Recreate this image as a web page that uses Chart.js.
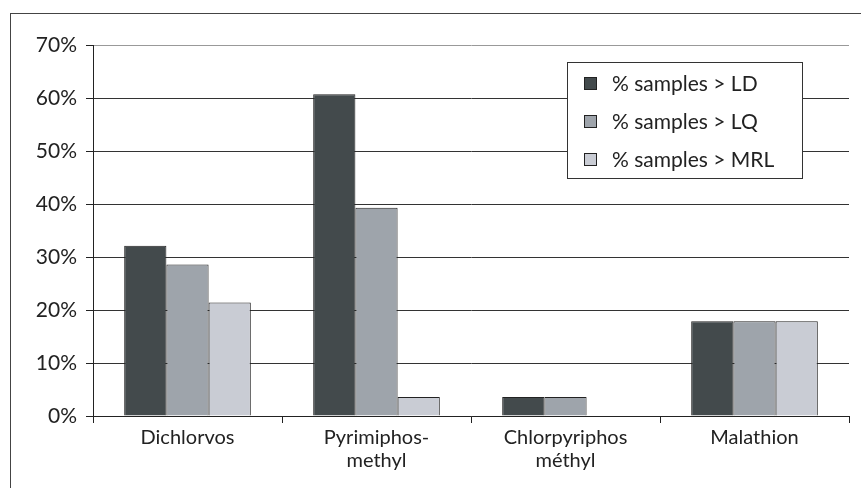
<!DOCTYPE html>
<html>
<head>
<meta charset="utf-8">
<script src="https://cdn.jsdelivr.net/npm/chart.js@4/dist/chart.umd.min.js"></script>
<style>
  html, body { margin: 0; padding: 0; background: #fff; }
  #wrap { position: relative; width: 861px; height: 488px; }
  #frame { position: absolute; left: 10px; top: 13px; right: 0; bottom: 0;
           border-left: 1px solid #444; border-top: 1px solid #444; pointer-events: none; }
</style>
</head>
<body>
<div id="wrap">
  <canvas id="chart" width="861" height="488"></canvas>
  <div id="frame"></div>
</div>
<script>
// Chart data (percent of samples)
const categories = [['Dichlorvos'], ['Pyrimiphos-', 'methyl'], ['Chlorpyriphos', 'méthyl'], ['Malathion']];
const seriesLabels = ['% samples > LD', '% samples > LQ', '% samples > MRL'];
const aboveLD = [32.1, 60.7, 3.6, 17.9];
const aboveLQ = [28.6, 39.3, 3.6, 17.9];
const aboveMRL = [21.4, 3.6, 0, 17.9];
const yTicks = [0, 10, 20, 30, 40, 50, 60, 70];

const colors = ['#434a4c', '#9ea4ab', '#c9ccd4'];
const FONT = 'Lato, "Open Sans", sans-serif';

// Legend box drawn inside the plot, top-right
const boxLegend = {
  id: 'boxLegend',
  afterDraw(chart) {
    const ctx = chart.ctx;
    const x = 567, y = 62, w = 235, h = 116;
    ctx.save();
    ctx.fillStyle = '#fff';
    ctx.fillRect(x, y, w, h);
    ctx.strokeStyle = '#333';
    ctx.lineWidth = 1;
    ctx.strokeRect(x + 0.5, y + 0.5, w, h);
    ctx.font = '21px ' + FONT;
    ctx.textBaseline = 'middle';
    chart.data.datasets.forEach((ds, i) => {
      const cy = y + 21 + i * 38;
      ctx.fillStyle = ds.backgroundColor;
      ctx.fillRect(x + 17, cy - 6, 13, 13);
      ctx.strokeStyle = '#222';
      ctx.strokeRect(x + 17.5, cy - 5.5, 12, 12);
      ctx.fillStyle = '#222';
      ctx.fillText(ds.label, x + 45, cy + 1);
    });
    ctx.restore();
  }
};

new Chart(document.getElementById('chart'), {
  type: 'bar',
  data: {
    labels: categories,
    datasets: [aboveLD, aboveLQ, aboveMRL].map((vals, i) => ({
      label: seriesLabels[i],
      data: vals,
      backgroundColor: colors[i],
      borderColor: '#222',
      borderWidth: 1,
      categoryPercentage: 0.67,
      barPercentage: 1
    }))
  },
  options: {
    responsive: false,
    animation: false,
    layout: { padding: { top: 45, right: 12, left: 0, bottom: 0 } },
    plugins: { legend: { display: false }, tooltip: { enabled: false } },
    scales: {
      x: {
        offset: true,
        afterFit: s => { s.height = 72; },
        grid: { display: true, drawOnChartArea: false, offset: true, tickLength: 7, color: '#222' },
        border: { color: '#222', width: 1 },
        ticks: { color: '#222', font: { family: FONT, size: 20, lineHeight: 1.15 }, padding: 3, maxRotation: 0 }
      },
      y: {
        min: 0,
        max: 70,
        afterFit: s => { s.width = 93; },
        afterBuildTicks: s => { s.ticks = yTicks.map(v => ({ value: v })); },
        grid: {
          color: c => (c.tick && c.tick.value === 70 ? '#999' : '#333'),
          tickLength: 7,
          tickColor: '#222'
        },
        border: { color: '#222', width: 1 },
        ticks: { color: '#222', font: { family: FONT, size: 21 }, padding: 9, callback: v => v + '%' }
      }
    }
  },
  plugins: [boxLegend]
});
</script>
</body>
</html>
